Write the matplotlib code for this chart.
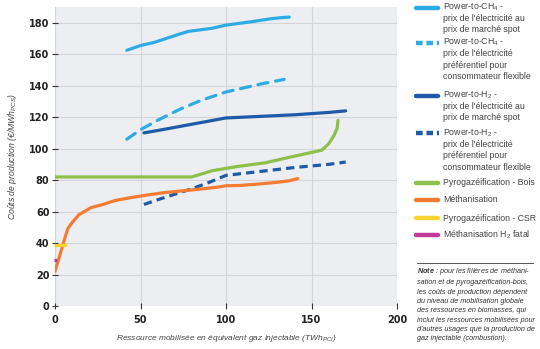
import matplotlib
matplotlib.use("Agg")
import matplotlib.pyplot as plt
from matplotlib.lines import Line2D

plt.rcParams['font.family'] = ['Liberation Sans', 'DejaVu Sans']
plt.rcParams['mathtext.fontset'] = 'custom'
plt.rcParams['mathtext.rm'] = 'Liberation Sans'
plt.rcParams['mathtext.it'] = 'Liberation Sans:italic'
plt.rcParams['mathtext.bf'] = 'Liberation Sans:italic:bold'

# Data (x: TWh PCI, y: €/MWh PCS)
ch4_spot_x = [42, 50, 58, 65, 72, 78, 85, 92, 100, 107, 114, 120, 126, 132, 137]
ch4_spot_y = [162.5, 165.5, 167.5, 170, 172.5, 174.5, 175.5, 176.5, 178.5, 179.5, 180.5, 181.5, 182.5, 183.2, 183.6]

ch4_pref_x = [42, 50, 60, 73, 85, 100, 120, 134]
ch4_pref_y = [106, 112, 118, 125, 130.5, 136, 141, 144]

h2_spot_x = [52, 60, 70, 80, 90, 100, 120, 140, 160, 170]
h2_spot_y = [110, 111.5, 113.5, 115.5, 117.5, 119.5, 120.5, 121.5, 123, 124]

h2_pref_x = [52, 60, 70, 80, 90, 100, 120, 140, 160, 170]
h2_pref_y = [64.5, 67.5, 71, 74.5, 78.5, 83, 85.5, 88, 90, 91.5]

bois_x = [0, 80, 92, 107, 123, 137, 156, 160, 163, 165, 165.5]
bois_y = [82, 82, 86, 88.7, 91, 94.5, 99, 103, 108, 113, 118]

metha_x = [0, 7.4, 10, 14, 21, 28, 35, 45, 57, 65, 75, 85, 95, 100, 108, 120, 130, 137, 142]
metha_y = [22, 49, 53, 58, 62.5, 64.5, 67, 69, 71, 72.2, 73.2, 74.3, 75.5, 76.4, 76.6, 77.6, 78.6, 79.6, 81]

csr_x = [-0.4, 7]
csr_y = [39, 39]

h2fatal_x = [-0.6, 0.9]
h2fatal_y = [29.5, 29.5]

C_LBLUE = "#2dabe3"
C_DBLUE = "#1d5ba8"
C_GREEN = "#8cc04a"
C_ORANGE = "#f47b32"
C_YELLOW = "#fdd330"
C_MAGENTA = "#c13a9b"
TXT = "#444444"

W, H = 540, 349
fig = plt.figure(figsize=(W / 100, H / 100), dpi=100)
ax = fig.add_axes([55 / W, 1 - 306 / H, (397 - 55) / W, (306 - 7) / H])
ax.set_facecolor("#eceef1")
for s in ax.spines.values():
    s.set_visible(False)

lw = 2.3
ax.plot(ch4_spot_x, ch4_spot_y, color=C_LBLUE, lw=lw, solid_capstyle="round")
ax.plot(ch4_pref_x, ch4_pref_y, color=C_LBLUE, lw=lw, dashes=(3.2, 2.4), dash_capstyle="round")
ax.plot(h2_spot_x, h2_spot_y, color=C_DBLUE, lw=lw, solid_capstyle="round")
ax.plot(h2_pref_x, h2_pref_y, color=C_DBLUE, lw=lw, dashes=(2.6, 1.6), dash_capstyle="butt")
ax.plot(bois_x, bois_y, color=C_GREEN, lw=lw, solid_capstyle="round")
ax.plot(metha_x, metha_y, color=C_ORANGE, lw=lw, solid_capstyle="round")
ax.plot(csr_x, csr_y, color=C_YELLOW, lw=lw, solid_capstyle="butt", clip_on=False, zorder=3)
ax.plot(h2fatal_x, h2fatal_y, color=C_MAGENTA, lw=lw, solid_capstyle="butt", clip_on=False, zorder=3)

ax.set_xlim(0, 200)
ax.set_ylim(0, 190)
ax.set_xticks([0, 50, 100, 150, 200])
ax.set_yticks(range(0, 181, 20))
ax.grid(True, color="#d3d5d9", lw=0.8)
ax.set_axisbelow(True)
ax.tick_params(direction="inout", length=5, width=0.8, color="#333333",
               labelcolor="#222222", labelsize=7)
ax.tick_params(axis="y", pad=1.5)
ax.tick_params(axis="x", pad=4)
for lab in ax.get_xticklabels() + ax.get_yticklabels():
    lab.set_fontfamily("DejaVu Sans")
    lab.set_fontweight("bold")

ax.set_xlabel(r"Ressource mobilisée en équivalent gaz injectable (TWh$_{\mathit{PCI}}$)",
              fontsize=6.0, style="italic", color=TXT, labelpad=6)
ax.set_ylabel(r"Coûts de production (€/MWh$_{\mathit{PCS}}$)",
              fontsize=6.2, style="italic", color=TXT, labelpad=7)


def fx(px):
    return px / W


def fy(py):
    return 1 - py / H


# legend drawn by hand so handles line up with the first text line
legend = [
    (C_LBLUE, "solid", 7.5, ["Power-to-CH$_4$ -", "prix de l'électricité au", "prix de marché spot"]),
    (C_LBLUE, "dot", 42.7, ["Power-to-CH$_4$ -", "prix de l'électricité", "préférentiel pour", "consommateur flexible"]),
    (C_DBLUE, "solid", 95.5, ["Power-to-H$_2$ -", "prix de l'électricité au", "prix de marché spot"]),
    (C_DBLUE, "dot", 133.3, ["Power-to-H$_2$ -", "prix de l'électricité", "préférentiel pour", "consommateur flexible"]),
    (C_GREEN, "solid", 182.7, ["Pyrogazéification - Bois"]),
    (C_ORANGE, "solid", 200, ["Méthanisation"]),
    (C_YELLOW, "solid", 218.3, ["Pyrogazéification - CSR"]),
    (C_MAGENTA, "solid", 235, ["Méthanisation H$_2$ fatal"]),
]
for color, kind, py, lines in legend:
    if kind == "solid":
        h = Line2D([fx(416), fx(438)], [fy(py), fy(py)], transform=fig.transFigure,
                   color=color, lw=3.2, solid_capstyle="round")
    else:
        h = Line2D([fx(416), fx(439)], [fy(py), fy(py)], transform=fig.transFigure,
                   color=color, lw=3.2, dashes=(1.5, 0.85), dash_capstyle="butt")
    fig.add_artist(h)
    for k, line in enumerate(lines):
        fig.text(fx(443), fy(py + 2.3 + k * 11.3), line, fontsize=6.3, color=TXT,
                 va="baseline", ha="left")

fig.add_artist(Line2D([fx(417), fx(533)], [fy(262.7), fy(262.7)],
                      transform=fig.transFigure, color="#555555", lw=0.7))
note = ("$\\mathbf{Note}$ : pour les filières de méthani-\n"
        "sation et de pyrogazéification-bois,\n"
        "les coûts de production dépendent\n"
        "du niveau de mobilisation globale\n"
        "des ressources en biomasses, qui\n"
        "inclut les ressources mobilisées pour\n"
        "d'autres usages que la production de\n"
        "gaz injectable (combustion).")
fig.text(fx(417), fy(266), note, fontsize=5.2, style="italic", color="#333333",
         va="top", ha="left", linespacing=1.47)

fig.savefig("out.png", dpi=100)
